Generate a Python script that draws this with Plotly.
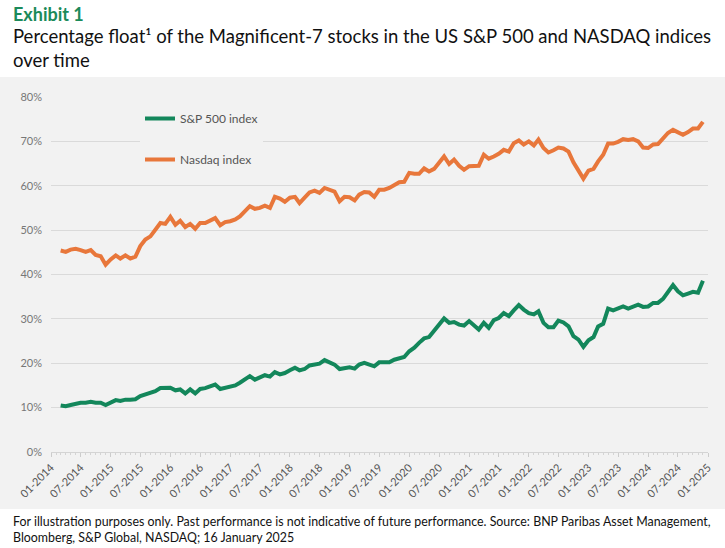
import pandas as pd
import plotly.graph_objects as go

# monthly readings, Mar 2014 .. Dec 2024
months = pd.date_range("2014-03-01", periods=130, freq="MS")

sp500 = [
    10.5, 10.3, 10.6, 10.9, 11.1, 11.1, 11.3, 11.1, 11.1, 10.6,
    11.1, 11.7, 11.5, 11.8, 11.8, 11.9, 12.6, 12.9, 13.2, 13.7, 14.4, 14.5,
    14.5, 13.9, 14.1, 13.2, 14.1, 13.2, 14.2, 14.4, 14.8, 15.2, 14.2, 14.4,
    14.7, 15.0, 15.6, 16.3, 17.1, 16.3, 16.7, 17.3, 17.0, 18.0, 17.5, 17.8,
    18.4, 19.0, 18.4, 18.7, 19.5, 19.6, 19.9, 20.7, 20.2, 19.7, 18.7, 19.0,
    19.1, 18.8, 19.7, 20.1, 19.7, 19.3, 20.2, 20.2, 20.2, 20.8, 21.1, 21.4,
    22.7, 23.5, 24.6, 25.6, 25.9, 27.4, 28.5, 30.1, 29.1, 29.3, 28.7, 28.5,
    29.5, 28.5, 27.6, 29.1, 28.0, 29.7, 30.2, 31.3, 30.6, 31.9, 33.1, 32.1,
    31.3, 31.0, 31.7, 29.1, 28.1, 28.1, 29.6, 29.2, 28.3, 26.1, 25.3, 23.7,
    25.2, 25.9, 28.3, 28.9, 32.3, 31.9, 32.3, 32.8, 32.3, 32.7, 33.2, 32.7,
    32.8, 33.6, 33.6, 34.5, 36.2, 37.6, 36.2, 35.3, 35.7, 36.1, 35.9, 38.6,
]

nasdaq = [
    45.4, 45.1, 45.6, 45.8, 45.5, 45.1, 45.5, 44.4, 44.1, 42.2,
    43.4, 44.3, 43.6, 44.3, 43.6, 44.0, 46.4, 47.9, 48.6, 50.1, 51.6, 51.4,
    53.0, 51.2, 52.1, 50.7, 51.4, 50.3, 51.6, 51.6, 52.2, 52.7, 51.1, 51.8,
    52.0, 52.4, 53.1, 54.2, 55.4, 54.8, 55.0, 55.5, 55.0, 57.5, 57.1, 56.4,
    57.3, 57.5, 56.1, 57.3, 58.5, 58.9, 58.4, 59.5, 59.1, 58.7, 56.5, 57.5,
    57.4, 56.7, 58.0, 58.6, 58.5, 57.5, 59.1, 59.1, 59.5, 60.1, 60.8, 60.9,
    62.9, 62.7, 62.7, 63.9, 63.2, 63.8, 65.1, 66.6, 64.9, 65.9, 64.5, 63.6,
    64.4, 64.4, 64.5, 67.0, 66.1, 66.6, 67.2, 68.1, 67.7, 69.6, 70.2, 69.3,
    70.0, 69.1, 70.4, 68.5, 67.5, 68.0, 68.6, 68.4, 67.7, 65.3, 63.2, 61.6,
    63.4, 63.8, 65.5, 67.0, 69.5, 69.5, 69.9, 70.5, 70.3, 70.5, 70.0, 68.6,
    68.5, 69.3, 69.4, 70.8, 71.9, 72.6, 72.1, 71.5, 72.1, 72.9, 72.9, 74.4,
]

y_ticks = [0, 10, 20, 30, 40, 50, 60, 70, 80]
y_labels = [f"{v}%" for v in y_ticks]

GREEN = "#13875b"
ORANGE = "#e8773b"
PANEL = "#f2f2f2"
FONT = "Lato"

fig = go.Figure()
fig.add_trace(go.Scatter(x=months, y=sp500, mode="lines", name="S&P 500 index",
                         legendgroup="a", line=dict(color=GREEN, width=4)))
fig.add_trace(go.Scatter(x=months, y=nasdaq, mode="lines", name="Nasdaq index",
                         legendgroup="b", line=dict(color=ORANGE, width=4)))

W, H = 725, 548
ml, mr, mt, mb = 51, 17, 97, 96
pw, ph = W - ml - mr, H - mt - mb

fig.update_layout(
    width=W, height=H,
    margin=dict(l=ml, r=mr, t=mt, b=mb, autoexpand=False),
    paper_bgcolor="white",
    plot_bgcolor=PANEL,
    font=dict(family=FONT, color="#555555"),
    showlegend=True,
    legend=dict(x=(140 - ml) / pw, y=(mt + ph - 104) / ph, xanchor="left", yanchor="top",
                bgcolor=PANEL, font=dict(size=12, color="#555555"),
                tracegroupgap=22, traceorder="grouped"),
    xaxis=dict(type="date", range=["2014-01-01", "2025-01-01"],
               dtick="M6", tick0="2014-01-01", tickformat="%m-%Y", tickangle=-45,
               tickfont=dict(size=11, color="#555555"),
               showgrid=False, showline=True, linecolor="#d4d4d4", linewidth=1,
               ticks="outside", ticklen=4, tickcolor="#cccccc",
               minor=dict(dtick="M1", ticks="outside", ticklen=2, tickcolor="#d4d4d4")),
    yaxis=dict(range=[0, 80], tickmode="array", tickvals=y_ticks, ticktext=y_labels,
               tickfont=dict(size=11, color="#777777"),
               showgrid=True, gridcolor="#dadada", gridwidth=1,
               zeroline=False, ticks="", ticklabelstandoff=8),
)

# grey panel behind the chart
fig.add_shape(type="rect", xref="paper", yref="paper", layer="below",
              x0=-ml / pw, x1=1 + mr / pw,
              y0=(mt + ph - 509) / ph, y1=(mt + ph - 77) / ph,
              fillcolor=PANEL, line=dict(width=0))

fig.add_annotation(text="<b>Exhibit 1</b>", xref="paper", yref="paper",
                   x=-(ml - 11) / pw, y=(mt + ph - 1) / ph, xanchor="left", yanchor="top",
                   showarrow=False, font=dict(family=FONT, size=18, color="#1b8a5a"))
fig.add_annotation(text="Percentage float¹ of the Magnificent-7 stocks in the US S&P 500 and NASDAQ indices<br>over time",
                   xref="paper", yref="paper", align="left",
                   x=-(ml - 11) / pw, y=(mt + ph - 23) / ph, xanchor="left", yanchor="top",
                   showarrow=False, font=dict(family=FONT, size=18.5, color="#111111"))
fig.add_annotation(text="For illustration purposes only. Past performance is not indicative of future performance. Source: BNP Paribas Asset Management,<br>Bloomberg, S&P Global, NASDAQ; 16 January 2025",
                   xref="paper", yref="paper", align="left",
                   x=-(ml - 11) / pw, y=(mt + ph - 512) / ph, xanchor="left", yanchor="top",
                   showarrow=False, font=dict(family=FONT, size=12.4, color="#111111"))

# drop the default page margin so the figure fills the window
fig.write_html("out.html", config={"displayModeBar": False},
               post_script="document.body.style.margin='0';")
